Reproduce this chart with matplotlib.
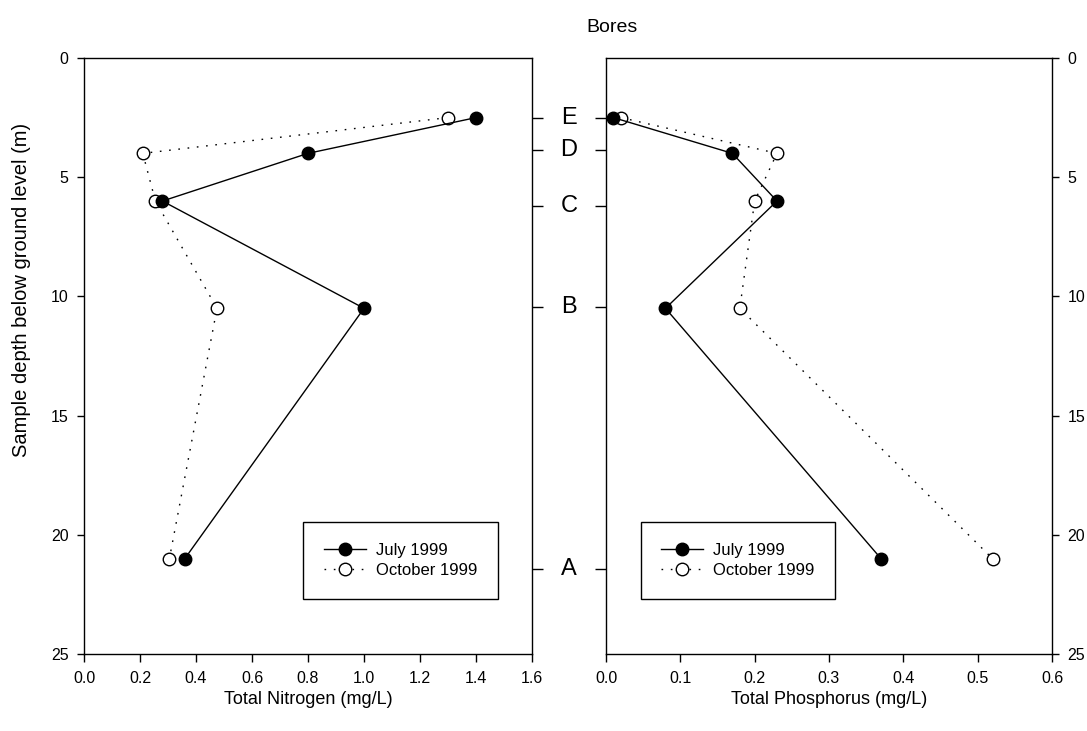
import matplotlib
matplotlib.use("Agg")
import matplotlib.pyplot as plt
import matplotlib.transforms as mtransforms
from matplotlib.lines import Line2D

plt.rcParams['font.family'] = ['Liberation Sans', 'DejaVu Sans']
plt.rcParams['lines.scale_dashes'] = False

# ---- data ----
depth = [2.5, 4.0, 6.0, 10.5, 21.0]
tn_july = [1.40, 0.80, 0.28, 1.00, 0.36]
tn_oct = [1.30, 0.21, 0.255, 0.475, 0.305]
tp_july = [0.01, 0.17, 0.23, 0.08, 0.37]
tp_oct = [0.02, 0.23, 0.20, 0.18, 0.52]
bore_labels = ['E', 'D', 'C', 'B', 'A']
bore_depths = [2.5, 3.85, 6.2, 10.45, 21.45]
y_ticks = [0, 5, 10, 15, 20, 25]
tn_ticks = [0.0, 0.2, 0.4, 0.6, 0.8, 1.0, 1.2, 1.4, 1.6]
tp_ticks = [0.0, 0.1, 0.2, 0.3, 0.4, 0.5, 0.6]
series_names = ['July 1999', 'October 1999']

W, H = 1087, 731
fig = plt.figure(figsize=(W / 100, H / 100), dpi=100)

def fx(px):
    return px / W

def fy(py):
    return 1 - py / H

top, bot = 58, 654
ax1 = fig.add_axes([fx(84), fy(bot), fx(532) - fx(84), fy(top) - fy(bot)])
ax2 = fig.add_axes([fx(606), fy(bot), fx(1052) - fx(606), fy(top) - fy(bot)])

dotted = (0, (1.2, 5.5))
ms = 9

def style(ax, xt, xlim):
    ax.set_xlim(xlim)
    ax.set_ylim(25, 0)
    ax.set_xticks(xt)
    ax.set_xticklabels([f"{v:.1f}" for v in xt])
    ax.set_yticks(y_ticks)
    ax.tick_params(axis='both', direction='out', length=5, width=1, labelsize=11.5)
    ax.tick_params(axis='x', length=6, pad=6)
    ax.tick_params(axis='y', pad=6)
    for s in ax.spines.values():
        s.set_linewidth(1.0)

for ax, july, octo, xt, xlim in [(ax1, tn_july, tn_oct, tn_ticks, (0, 1.6)),
                                  (ax2, tp_july, tp_oct, tp_ticks, (0, 0.6))]:
    ax.plot(octo, depth, color='black', lw=1.0, linestyle=dotted, marker='o',
            markersize=ms, markerfacecolor='white', markeredgecolor='black',
            markeredgewidth=1.0, zorder=3)
    ax.plot(july, depth, color='black', lw=1.0, linestyle='-', marker='o',
            markersize=ms, markerfacecolor='black', markeredgecolor='black',
            zorder=4)
    style(ax, xt, xlim)

# bore depth ticks on inner sides
t1 = ax1.twinx()
t1.set_ylim(25, 0)
t1.set_yticks(bore_depths)
t1.set_yticklabels([])
t1.tick_params(axis='y', direction='out', length=8, width=1)
t2 = ax2.twinx()
t2.set_ylim(25, 0)
t2.yaxis.tick_left()
t2.set_yticks(bore_depths)
t2.set_yticklabels([])
t2.tick_params(axis='y', direction='out', length=8, width=1)
for t in (t1, t2):
    t.spines[:].set_visible(False)

ax1.yaxis.tick_left()
ax2.yaxis.tick_right()
ax2.yaxis.set_label_position('right')

trans = mtransforms.blended_transform_factory(fig.transFigure, ax1.transData)
for lab, d in zip(bore_labels, bore_depths):
    fig.text(fx(569), d, lab, transform=trans, ha='center', va='center', fontsize=17)

ax1.set_xlabel('Total Nitrogen (mg/L)', fontsize=13, labelpad=4)
ax2.set_xlabel('Total Phosphorus (mg/L)', fontsize=13, labelpad=4)
ax1.set_ylabel('Sample depth below ground level (m)', fontsize=14.5, va='center')
ax1.yaxis.set_label_coords((22 - 84) / 448, (654 - 290) / 596)
fig.text(fx(612), fy(27), 'Bores', ha='center', va='center', fontsize=14)

handles = [
    Line2D([], [], color='black', lw=1.0, marker='o', markersize=ms,
           markerfacecolor='black', markeredgecolor='black'),
    Line2D([], [], color='black', lw=1.0, linestyle=dotted, marker='o', markersize=ms,
           markerfacecolor='white', markeredgecolor='black'),
]
for ax, cx in [(ax1, 0.7065), (ax2, 0.296)]:
    leg = ax.legend(handles, series_names, loc='center', bbox_to_anchor=(cx, 0.157),
                    fontsize=12, frameon=True, fancybox=False, framealpha=1,
                    edgecolor='black', borderpad=1.25, handlelength=2.5,
                    handletextpad=0.6, labelspacing=0.3)
    leg.get_frame().set_linewidth(1.0)

fig.savefig('out.png', dpi=100)
